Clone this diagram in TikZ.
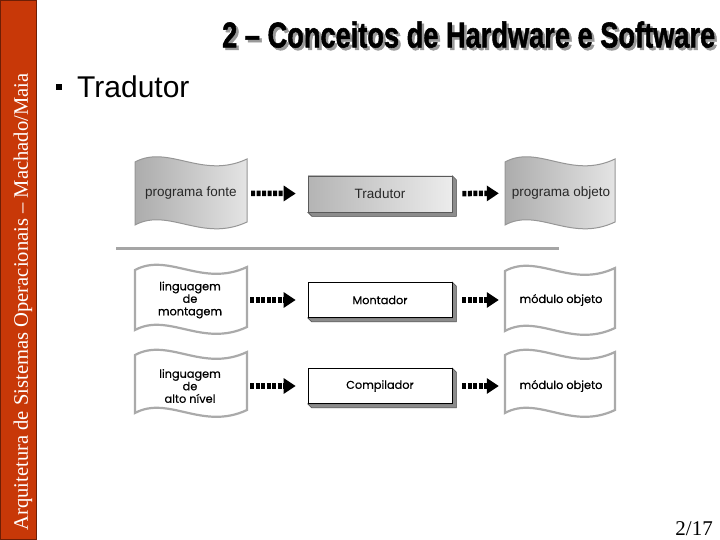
\documentclass[tikz,border=0pt]{standalone}
\usepackage{fontspec}
\setmainfont{Liberation Serif}
\newfontfamily\arial{Liberation Sans}
\newfontfamily\titlefont[BoldFeatures={FakeBold=1.6}]{Liberation Sans}
\newfontfamily\geo[FakeBold=0.5]{Poppins}
\usetikzlibrary{arrows.meta,calc}
\definecolor{sidebar}{RGB}{200,56,8}
\definecolor{sideedge}{RGB}{110,30,5}
\definecolor{wdark}{RGB}{172,172,172}
\definecolor{wlight}{RGB}{228,228,228}
\definecolor{bdark}{RGB}{180,180,180}
\definecolor{blight}{RGB}{236,236,236}
\definecolor{wedge}{RGB}{150,150,150}
\definecolor{wedgetwo}{RGB}{170,170,170}
\definecolor{bevelc}{RGB}{140,140,140}
\definecolor{txtgray}{RGB}{40,40,40}
\pgfdeclarelayer{bg}
\pgfsetlayers{bg,main}
\newcommand{\wave}[4]{(#1,{#2+3}) .. controls ({#1+0.3*#3},{#2-15}) and ({#1+0.6*#3},{#2+21}) .. ({#1+#3},#2) -- ({#1+#3},{#2+#4}) .. controls ({#1+0.6*#3},{#2+#4+21}) and ({#1+0.3*#3},{#2+#4-15}) .. (#1,{#2+#4+3}) -- cycle}
\newcommand{\bevelof}[1]{(#1.north east) -- ($(#1.north east)+(4,4)$) -- ($(#1.south east)+(4,4)$) -- ($(#1.south west)+(4,4)$) -- (#1.south west) -- (#1.south east) -- cycle}
\newcommand{\titletext}{\resizebox{493pt}{26pt}{\titlefont\bfseries 2 – Conceitos de Hardware e Software}}
\tikzset{
  wavefirst/.style={draw=wedge, line width=1pt, left color=wdark, right color=wlight},
  waveother/.style={draw=wedgetwo, line width=2.2pt, fill=white},
  wlabel/.style={inner sep=0, align=center, minimum width=100pt, minimum height=50pt},
  fonteA/.style={font=\arial\fontsize{13.5}{15}\selectfont, text=txtgray},
  fonteB/.style={font=\geo\fontsize{11.3}{12.5}\selectfont, text=black},
  boxfirst/.style={draw={rgb,255:red,90;green,90;blue,90}, line width=0.6pt, left color=bdark, right color=blight, minimum width=144pt, minimum height=36pt, inner sep=0},
  boxother/.style={draw=black, line width=0.7pt, fill=white, minimum width=144pt, minimum height=35pt, inner sep=0},
  bevel/.style={fill=bevelc, draw={rgb,255:red,70;green,70;blue,70}, line width=0.5pt},
  flow/.style={line width=5.5pt, dash pattern=on 4pt off 1.5pt, -{Triangle[length=12pt,width=15pt]}, shorten <=10pt, shorten >=12pt}
}
\begin{document}
\begin{tikzpicture}[x=1pt,y=-1pt]
\useasboundingbox (0,0) rectangle (720,540);
% sidebar
\filldraw[fill=sidebar, draw=sideedge, line width=1pt] (0.5,0.5) rectangle (36,539.5);
\node[rotate=90, text=white, font=\fontsize{20.6}{21}\selectfont, inner sep=0] (side) at (23,302) {Arquitetura de Sistemas Operacionais – Machado/Maia};
% title
\node[anchor=south west, inner sep=0, text=black!40] (titleshadow) at (224.5,50.5) {\titletext};
\node[anchor=south west, inner sep=0] (title) at (222,48) {\titletext};
% bullet
\node[fill=black, minimum size=5.5pt, inner sep=0] (bullet) at (59,87) {};
\node[anchor=base west, inner sep=0, font=\arial\fontsize{30}{30}\selectfont] (head) at (77,98) {Tradutor};
% row 1
\node[wlabel, fonteA] (pf) at (191,193) {programa fonte};
\node[boxfirst, fonteA] (trad) at (380,194) {Tradutor};
\node[wlabel, fonteA] (po) at (561,193) {programa objeto};
% row 2
\node[wlabel, fonteB] (lm) at (190,300) {linguagem\\de\\montagem};
\node[boxother, fonteB] (mont) at (380,300) {Montador};
\node[wlabel, fonteB] (mo1) at (561,300) {módulo objeto};
% row 3
\node[wlabel, fonteB] (la) at (190,386) {linguagem\\de\\alto nível};
\node[boxother, fonteB] (comp) at (380,386) {Compilador};
\node[wlabel, fonteB] (mo2) at (561,386) {módulo objeto};
% separator
\coordinate (sepl) at (116,248);
\coordinate (sepr) at (559,248);
\draw[line width=3pt, color={rgb,255:red,165;green,165;blue,165}] (sepl) -- (sepr);
% shapes behind
\begin{pgfonlayer}{bg}
\fill[white] (36,0) rectangle (720,540);
\path[wavefirst] \wave{135}{159}{112}{63};
\path[wavefirst] \wave{505}{159}{110}{63};
\path[waveother] \wave{135}{267}{112}{60};
\path[waveother] \wave{505}{268}{110}{60};
\path[waveother] \wave{135}{352}{112}{58};
\path[waveother] \wave{505}{352}{110}{58};
\path[bevel] \bevelof{trad};
\path[bevel] \bevelof{mont};
\path[bevel] \bevelof{comp};
\end{pgfonlayer}
% arrows
\draw[flow] (pf) -- (trad);
\draw[flow] (trad) -- (po);
\draw[flow] (lm) -- (mont);
\draw[flow] (mont) -- (mo1);
\draw[flow] (la) -- (comp);
\draw[flow] (comp) -- (mo2);
% page number
\node[anchor=base east, inner sep=0, font=\fontsize{21}{21}\selectfont] (page) at (713,535) {2/17};
\end{tikzpicture}
\end{document}
